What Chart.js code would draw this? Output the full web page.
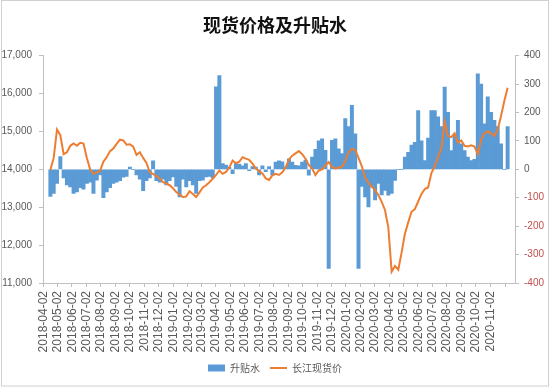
<!DOCTYPE html>
<html>
<head>
<meta charset="utf-8">
<script src="https://cdn.jsdelivr.net/npm/chart.js@4.4.1/dist/chart.umd.min.js"></script>
<style>
  html, body { margin: 0; padding: 0; background: #fff; }
  canvas { display: block; }
</style>
</head>
<body>
<canvas id="spotChart" width="550" height="387"></canvas>
<script>
// ── DATA ─────────────────────────────────────────────────────────────
// weekly samples starting on the first category date
const FIRST_DAY = '2018-04-02';
const WEEK_STEP = 7;

const monthLabels = [
  '2018-04-02','2018-05-02','2018-06-02','2018-07-02','2018-08-02','2018-09-02','2018-10-02','2018-11-02','2018-12-02',
  '2019-01-02','2019-02-02','2019-03-02','2019-04-02','2019-05-02','2019-06-02','2019-07-02','2019-08-02','2019-09-02',
  '2019-10-02','2019-11-02','2019-12-02','2020-01-02','2020-02-02','2020-03-02','2020-04-02','2020-05-02','2020-06-02',
  '2020-07-02','2020-08-02','2020-09-02','2020-10-02','2020-11-02'
];

// 长江现货价 (left axis)
const spotPrice = [
  13980,14300,15050,14900,14400,14450,14620,14680,14620,14700,
  14680,14300,14000,13880,13920,13960,14200,14320,14480,14550,
  14670,14780,14760,14650,14660,14600,14380,14450,14300,14170,
  13920,13880,13820,13760,13660,13620,13580,13500,13400,13330,
  13270,13280,13420,13350,13270,13390,13520,13580,13660,13750,
  13850,13970,13880,13930,14050,14230,14160,14200,14320,14280,
  14250,14150,14020,13950,13890,13760,13720,13840,13880,13850,
  13920,14050,14260,14360,14420,14480,14400,14280,14110,14020,
  13850,13970,14000,14100,14190,14060,14020,14040,14070,14220,
  14450,14540,14510,14300,14080,13780,13640,13540,13450,13320,
  13140,12920,12460,11300,11450,11350,11800,12300,12600,12880,
  12950,13150,13350,13480,13520,13900,14080,14320,14550,15250,
  14880,14850,14950,14700,14760,14620,14600,14630,14600,14400,
  14780,14950,15000,14950,14880,15050,15400,15800,16150
];

// 升贴水 (right axis)
const premium = [
  -95,-85,-50,45,-30,-55,-62,-85,-80,-65,
  -70,-50,-45,-85,-38,-20,-100,-80,-65,-50,
  -45,-40,-28,-25,8,0,-20,-35,-75,-40,
  -30,30,-40,-45,-35,-55,-40,-27,-60,-97,
  -35,-62,-40,-55,-85,-40,-38,-27,-25,-30,
  290,330,20,15,8,-15,20,18,12,20,
  -5,10,8,-20,12,-8,10,-20,25,30,
  26,8,37,25,14,12,25,32,-21,43,
  70,100,107,67,-349,102,107,72,55,178,
  150,225,125,-349,-60,-97,-132,-62,-108,-50,
  -90,-74,-91,-85,-39,0,0,43,60,85,
  95,207,100,31,110,207,207,185,150,289,
  200,66,120,172,90,66,43,31,35,336,
  300,160,255,200,172,150,90,0,150
];

const X_MAX_DAY = 966;

// ── HELPERS ──────────────────────────────────────────────────────────
const COLORS = {
  bar: '#5B9BD5', line: '#ED7D31', axis: '#bfbfbf',
  text: '#595959', negative: '#C0504D', frame: '#d0d0d0'
};
const dayOf = s => {
  const [y, m, d] = s.split('-').map(Number);
  const [y0, m0, d0] = FIRST_DAY.split('-').map(Number);
  return Math.round((Date.UTC(y, m - 1, d) - Date.UTC(y0, m0 - 1, d0)) / 86400000);
};
const monthDays = monthLabels.map(dayOf);
const toPoints = arr => arr.map((v, i) => ({ x: i * WEEK_STEP, y: v }));

const numFont = { family: '"Liberation Sans", Arial, sans-serif', size: 10 };

const framePlugin = {
  id: 'frame',
  beforeDraw(chart) {
    const c = chart.ctx;
    c.save();
    c.fillStyle = '#fff';
    c.fillRect(0, 0, chart.width, chart.height);
    c.restore();
  },
  afterDraw(chart) {
    const c = chart.ctx;
    c.save();
    c.strokeStyle = COLORS.frame;
    c.lineWidth = 1;
    c.strokeRect(1.5, 0.5, chart.width - 3, chart.height - 1.5);
    c.restore();
  }
};

// ── CHART ────────────────────────────────────────────────────────────
new Chart(document.getElementById('spotChart'), {
  data: {
    datasets: [
      { type: 'bar', label: '升贴水', data: toPoints(premium), yAxisID: 'y1',
        backgroundColor: COLORS.bar, borderWidth: 0, barPercentage: 1, categoryPercentage: 1,
        order: 1, pointStyle: 'rect' },
      { type: 'line', label: '长江现货价', data: toPoints(spotPrice), yAxisID: 'y',
        borderColor: COLORS.line, backgroundColor: COLORS.line, borderWidth: 2, pointRadius: 0,
        tension: 0, order: 0, pointStyle: 'line' }
    ]
  },
  options: {
    responsive: false, animation: false, events: [],
    layout: { padding: { top: 0, left: 0, right: 0, bottom: 4 } },
    plugins: {
      title: { display: true, text: '现货价格及升贴水', color: '#111',
        font: { family: '"Noto Sans CJK SC", sans-serif', size: 18, weight: 'bold' },
        padding: { top: 14, bottom: 20 } },
      legend: { position: 'bottom',
        labels: { usePointStyle: true, pointStyleWidth: 17, boxHeight: 7, padding: 10, color: COLORS.text,
          font: { family: '"Noto Sans CJK SC", sans-serif', size: 10 },
          sort: (a, b) => a.datasetIndex - b.datasetIndex } },
      tooltip: { enabled: false }
    },
    scales: {
      x: { type: 'linear', min: 0, max: X_MAX_DAY,
        afterBuildTicks: s => { s.ticks = monthDays.map(v => ({ value: v })); },
        afterFit: s => { s.height = 70; },
        ticks: { autoSkip: false, maxRotation: 90, minRotation: 90, padding: 4, labelOffset: -7,
          color: COLORS.text, font: { family: '"Liberation Sans", Arial, sans-serif', size: 12 },
          callback: (v, i) => monthLabels[i] },
        grid: { drawOnChartArea: false, tickLength: 4, color: COLORS.axis },
        border: { color: COLORS.axis } },
      y: { position: 'left', min: 11000, max: 17000,
        afterFit: s => { s.width = 43; },
        ticks: { stepSize: 1000, padding: 7, color: COLORS.text, font: numFont,
          callback: v => v.toLocaleString('en-US') },
        grid: { drawOnChartArea: false, tickLength: 4, color: COLORS.axis },
        border: { color: COLORS.axis } },
      y1: { position: 'right', min: -400, max: 400,
        afterFit: s => { s.width = 35; },
        ticks: { stepSize: 100, padding: 5, font: numFont,
          color: c => (c.tick && c.tick.value < 0 ? COLORS.negative : COLORS.text) },
        grid: { drawOnChartArea: false, tickLength: 4, color: COLORS.axis },
        border: { color: COLORS.axis } }
    }
  },
  plugins: [framePlugin]
});
</script>
</body>
</html>
